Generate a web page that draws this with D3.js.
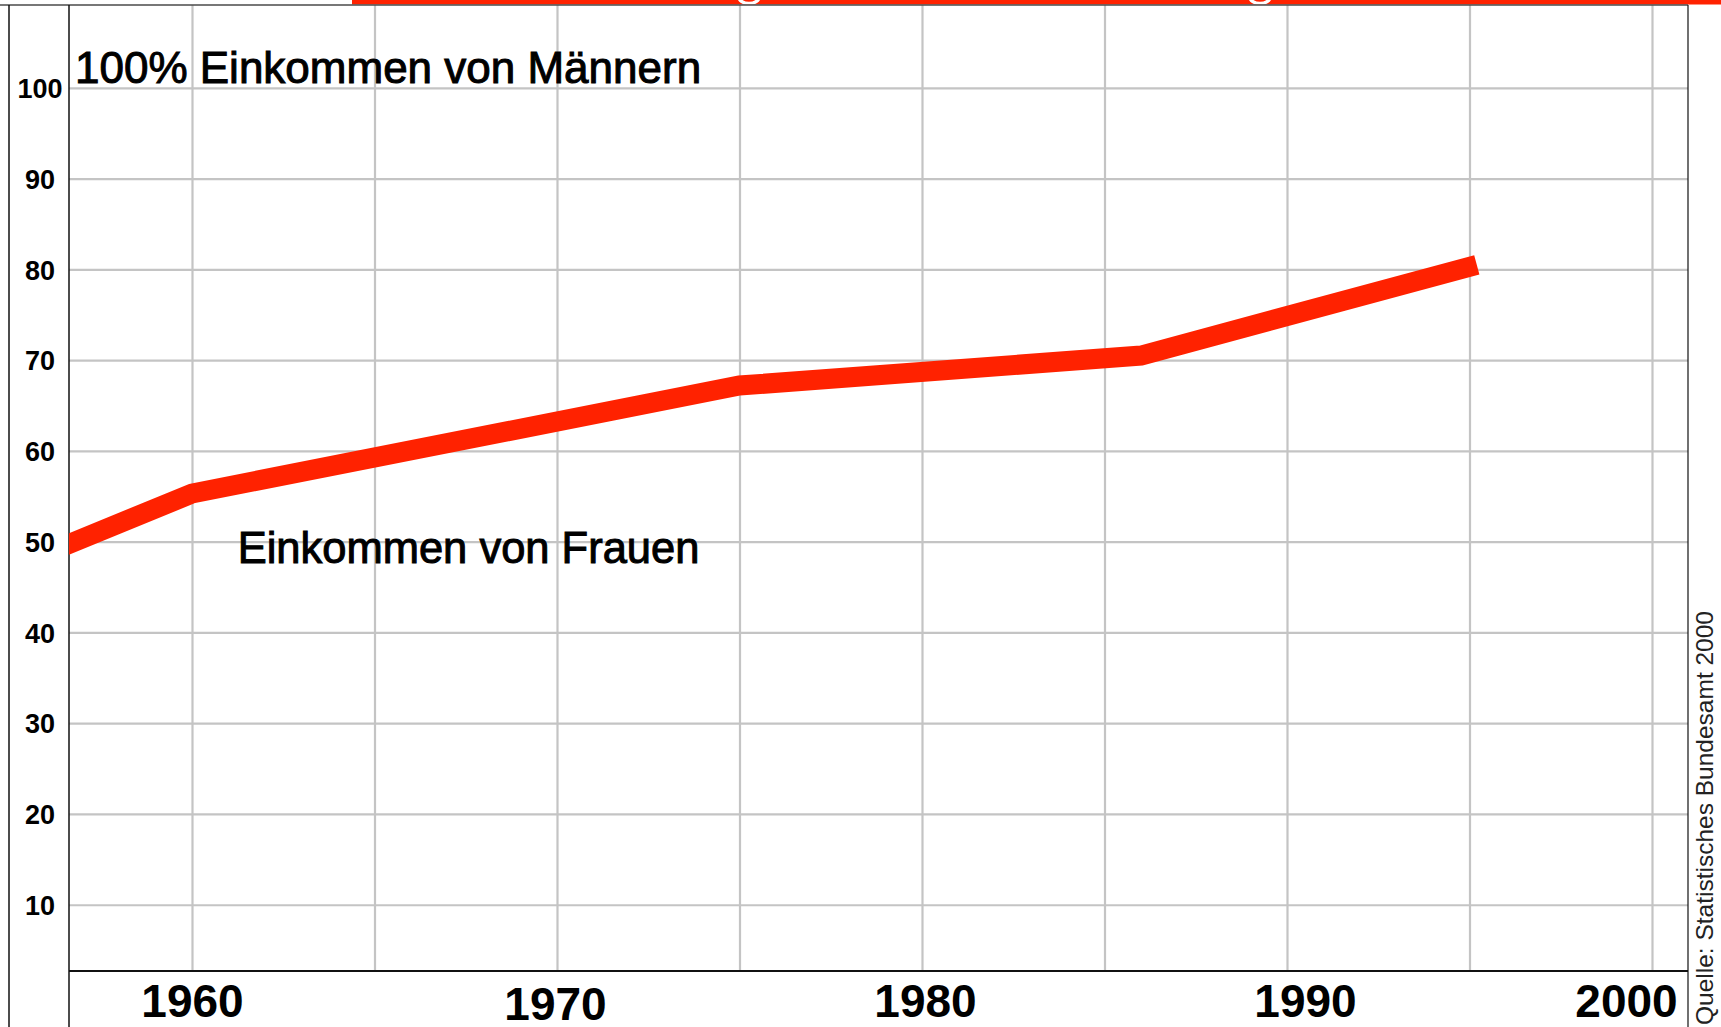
<!DOCTYPE html>
<html>
<head>
<meta charset="utf-8">
<script src="https://cdn.jsdelivr.net/npm/d3@7"></script>
<style>
  body { margin: 0; background: #fff; }
  svg { display: block; font-family: "Liberation Sans", Arial, sans-serif; }
</style>
</head>
<body>
<script>
// Einkommen von Frauen in % der Einkommen von Männern
var years = [1956, 1960, 1975, 1986, 1995.2];
var incomeShare = [48.7, 55.3, 67.2, 70.5, 80.5];

var yTicks = [10, 20, 30, 40, 50, 60, 70, 80, 90, 100];
var xTicks = [1960, 1970, 1980, 1990, 2000];
var xGridYears = [1960, 1965, 1970, 1975, 1980, 1985, 1990, 1995, 2000];

var width = 1721;
var height = 1027;
var plot = { left: 69, right: 1688, top: 5, bottom: 971 };

// small hand nudges of the year labels (as printed in the original)
var xLabelShift = { 1960: 0, 1970: -2, 1980: 3, 1990: 18, 2000: -26 };
var xLabelDrop = { 1960: 0, 1970: 3.5, 1980: 0, 1990: 0, 2000: 0 };

var data = years.map(function (yr, i) {
  return { year: yr, value: incomeShare[i] };
});

var svg = d3
  .select("body")
  .append("svg")
  .attr("width", width)
  .attr("height", height);

svg.append("rect").attr("width", width).attr("height", height).attr("fill", "#fff");

var xScale = d3.scaleLinear().domain([1960, 2000]).range([192, 1652]);
var yScale = d3.scaleLinear().domain([0, 100]).range([995.5, 87.8]);

// grid
var gridX = svg
  .append("g")
  .attr("transform", "translate(0," + plot.top + ")")
  .call(
    d3.axisBottom(xScale)
      .tickValues(xGridYears)
      .tickSize(plot.bottom - plot.top)
      .tickFormat("")
  );
var gridY = svg
  .append("g")
  .attr("transform", "translate(" + plot.left + ",0)")
  .call(
    d3.axisRight(yScale)
      .tickValues(yTicks)
      .tickSize(plot.right - plot.left)
      .tickFormat("")
  );
[gridX, gridY].forEach(function (g) {
  g.select(".domain").remove();
  g.selectAll(".tick line").attr("stroke", "#c4c4c4").attr("stroke-width", 2.2);
});

// red bar at the top (bottom edge of the cut-off title banner)
svg.append("rect")
  .attr("x", 352).attr("y", 0)
  .attr("width", width - 352).attr("height", 4.5)
  .attr("fill", "#ff2200");
var barClip = svg.append("clipPath").attr("id", "barclip");
barClip.append("rect").attr("x", 352).attr("y", 0).attr("width", width - 352).attr("height", 4.5);
[749, 1260].forEach(function (cx) {
  svg.append("ellipse")
    .attr("clip-path", "url(#barclip)")
    .attr("cx", cx).attr("cy", -3)
    .attr("rx", 10).attr("ry", 6.5)
    .attr("fill", "none")
    .attr("stroke", "#fff")
    .attr("stroke-width", 3.5);
});

// frame lines
svg.append("line")
  .attr("x1", 0).attr("x2", plot.right)
  .attr("y1", plot.top).attr("y2", plot.top)
  .attr("stroke", "#4a4a4a").attr("stroke-width", 1.6);
svg.append("line")
  .attr("x1", 9).attr("x2", 9)
  .attr("y1", plot.top).attr("y2", height)
  .attr("stroke", "#111").attr("stroke-width", 1.5);
svg.append("line")
  .attr("x1", plot.left).attr("x2", plot.left)
  .attr("y1", plot.top).attr("y2", height)
  .attr("stroke", "#111").attr("stroke-width", 1.5);
svg.append("line")
  .attr("x1", plot.right).attr("x2", plot.right)
  .attr("y1", plot.top).attr("y2", height)
  .attr("stroke", "#111").attr("stroke-width", 1.2);
svg.append("line")
  .attr("x1", plot.left).attr("x2", plot.right)
  .attr("y1", plot.bottom).attr("y2", plot.bottom)
  .attr("stroke", "#111").attr("stroke-width", 1.8);

// y labels
var yAxis = svg
  .append("g")
  .attr("transform", "translate(" + plot.left + ",0)")
  .call(d3.axisLeft(yScale).tickValues(yTicks).tickSize(0).tickPadding(14));
yAxis.select(".domain").remove();
yAxis.selectAll(".tick text")
  .attr("dy", "0.36em")
  .attr("dx", function (d) { return d === 100 ? 7.5 : 0; })
  .style("font-family", '"Liberation Sans", Arial, sans-serif')
  .style("font-size", "27px")
  .style("font-weight", "bold")
  .attr("fill", "#000");

// x labels
var xAxis = svg
  .append("g")
  .attr("transform", "translate(0," + plot.bottom + ")")
  .call(d3.axisBottom(xScale).tickValues(xTicks).tickSize(0).tickFormat(d3.format("d")));
xAxis.select(".domain").remove();
xAxis.selectAll(".tick text")
  .attr("y", function (d) { return 45.5 + xLabelDrop[d]; })
  .attr("dy", 0)
  .attr("dx", function (d) { return xLabelShift[d]; })
  .style("font-family", '"Liberation Sans", Arial, sans-serif')
  .style("font-size", "46px")
  .style("font-weight", "bold")
  .attr("fill", "#000");

// the line
var clip = svg.append("clipPath").attr("id", "plotclip");
clip.append("rect")
  .attr("x", plot.left).attr("y", plot.top)
  .attr("width", plot.right - plot.left).attr("height", plot.bottom - plot.top);

var line = d3.line()
  .x(function (d) { return xScale(d.year); })
  .y(function (d) { return yScale(d.value); });

svg.append("path")
  .datum(data)
  .attr("clip-path", "url(#plotclip)")
  .attr("d", line)
  .attr("fill", "none")
  .attr("stroke", "#ff2200")
  .attr("stroke-width", 20)
  .attr("stroke-linejoin", "miter")
  .attr("stroke-linecap", "butt");

// annotations
svg.append("text")
  .attr("x", plot.left + 6)
  .attr("y", yScale(100) - 5)
  .style("font-size", "44px")
  .attr("fill", "#000")
  .attr("stroke", "#000")
  .attr("stroke-width", 1)
  .text("100% Einkommen von Männern");

svg.append("text")
  .attr("x", xScale(1961.25))
  .attr("y", yScale(47.6))
  .style("font-size", "43.5px")
  .attr("fill", "#000")
  .attr("stroke", "#000")
  .attr("stroke-width", 1)
  .text("Einkommen von Frauen");

// source
svg.append("text")
  .attr("transform", "translate(1713,611)rotate(-90)")
  .attr("text-anchor", "end")
  .style("font-size", "24.5px")
  .attr("fill", "#222")
  .text("Quelle: Statistisches Bundesamt 2000");
</script>
</body>
</html>
